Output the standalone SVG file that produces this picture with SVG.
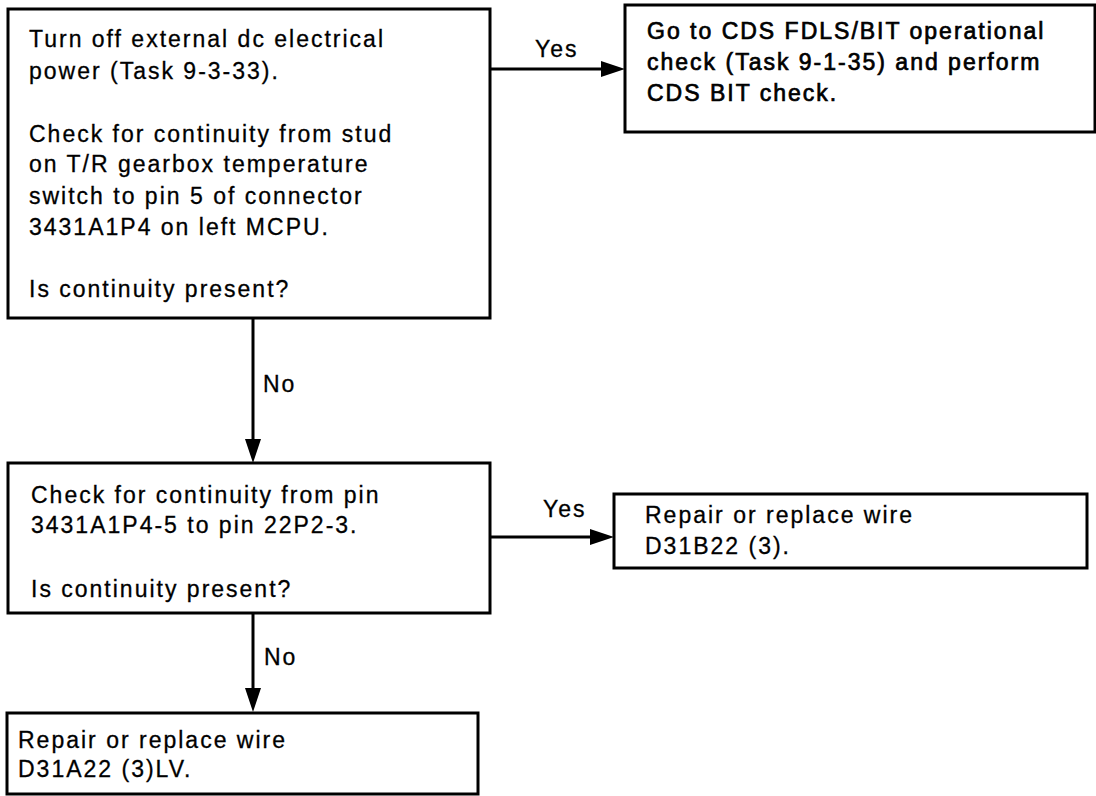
<svg xmlns="http://www.w3.org/2000/svg" width="1096" height="796" viewBox="0 0 1096 796">
<defs>
<marker id="ah" viewBox="0 0 24 16" refX="14" refY="8" markerWidth="24" markerHeight="16" markerUnits="userSpaceOnUse" orient="auto">
<path d="M0,0 L24,8 L0,16 z" fill="#000"/>
</marker>
<style>
.box{fill:#fff;stroke:#000;stroke-width:3}
.t{font-family:"Liberation Sans",Arial,Helvetica,sans-serif;font-size:23px;letter-spacing:2px;fill:#000;stroke:#000;stroke-width:0.3}
.b{stroke-width:0.7}
.c{stroke:#000;stroke-width:3;fill:none;marker-end:url(#ah)}
</style>
</defs>
<rect width="1096" height="796" fill="#fff"/>
<g id="connectors">
<line class="c" x1="490" y1="69" x2="615" y2="69"/>
<line class="c" x1="253" y1="318" x2="253" y2="453"/>
<line class="c" x1="490" y1="537" x2="604" y2="537"/>
<line class="c" x1="253" y1="613" x2="253" y2="702"/>
<text class="t" x="535" y="57">Yes</text>
<text class="t" x="263" y="392">No</text>
<text class="t" x="543" y="517">Yes</text>
<text class="t" x="264" y="665">No</text>
</g>
<g id="n1">
<rect class="box" x="8" y="9" width="482" height="309"/>
<text class="t"><tspan x="29" y="47">Turn off external dc electrical</tspan><tspan x="29" y="79">power (Task 9-3-33).</tspan><tspan x="29" y="142">Check for continuity from stud</tspan><tspan x="29" y="172">on T/R gearbox temperature</tspan><tspan x="29" y="204">switch to pin 5 of connector</tspan><tspan x="29" y="235">3431A1P4 on left MCPU.</tspan><tspan x="29" y="297">Is continuity present?</tspan></text>
</g>
<g id="n2">
<rect class="box" x="625" y="5" width="470" height="127"/>
<text class="t b"><tspan x="647" y="39">Go to CDS FDLS/BIT operational</tspan><tspan x="647" y="70">check (Task 9-1-35) and perform</tspan><tspan x="647" y="101">CDS BIT check.</tspan></text>
</g>
<g id="n3">
<rect class="box" x="8" y="463" width="482" height="150"/>
<text class="t"><tspan x="31" y="503">Check for continuity from pin</tspan><tspan x="31" y="533">3431A1P4-5 to pin 22P2-3.</tspan><tspan x="31" y="597">Is continuity present?</tspan></text>
</g>
<g id="n4">
<rect class="box" x="614" y="494" width="473" height="74"/>
<text class="t"><tspan x="645" y="523">Repair or replace wire</tspan><tspan x="645" y="554">D31B22 (3).</tspan></text>
</g>
<g id="n5">
<rect class="box" x="7" y="713" width="471" height="81"/>
<text class="t"><tspan x="18" y="748">Repair or replace wire</tspan><tspan x="18" y="777">D31A22 (3)LV.</tspan></text>
</g>
</svg>
